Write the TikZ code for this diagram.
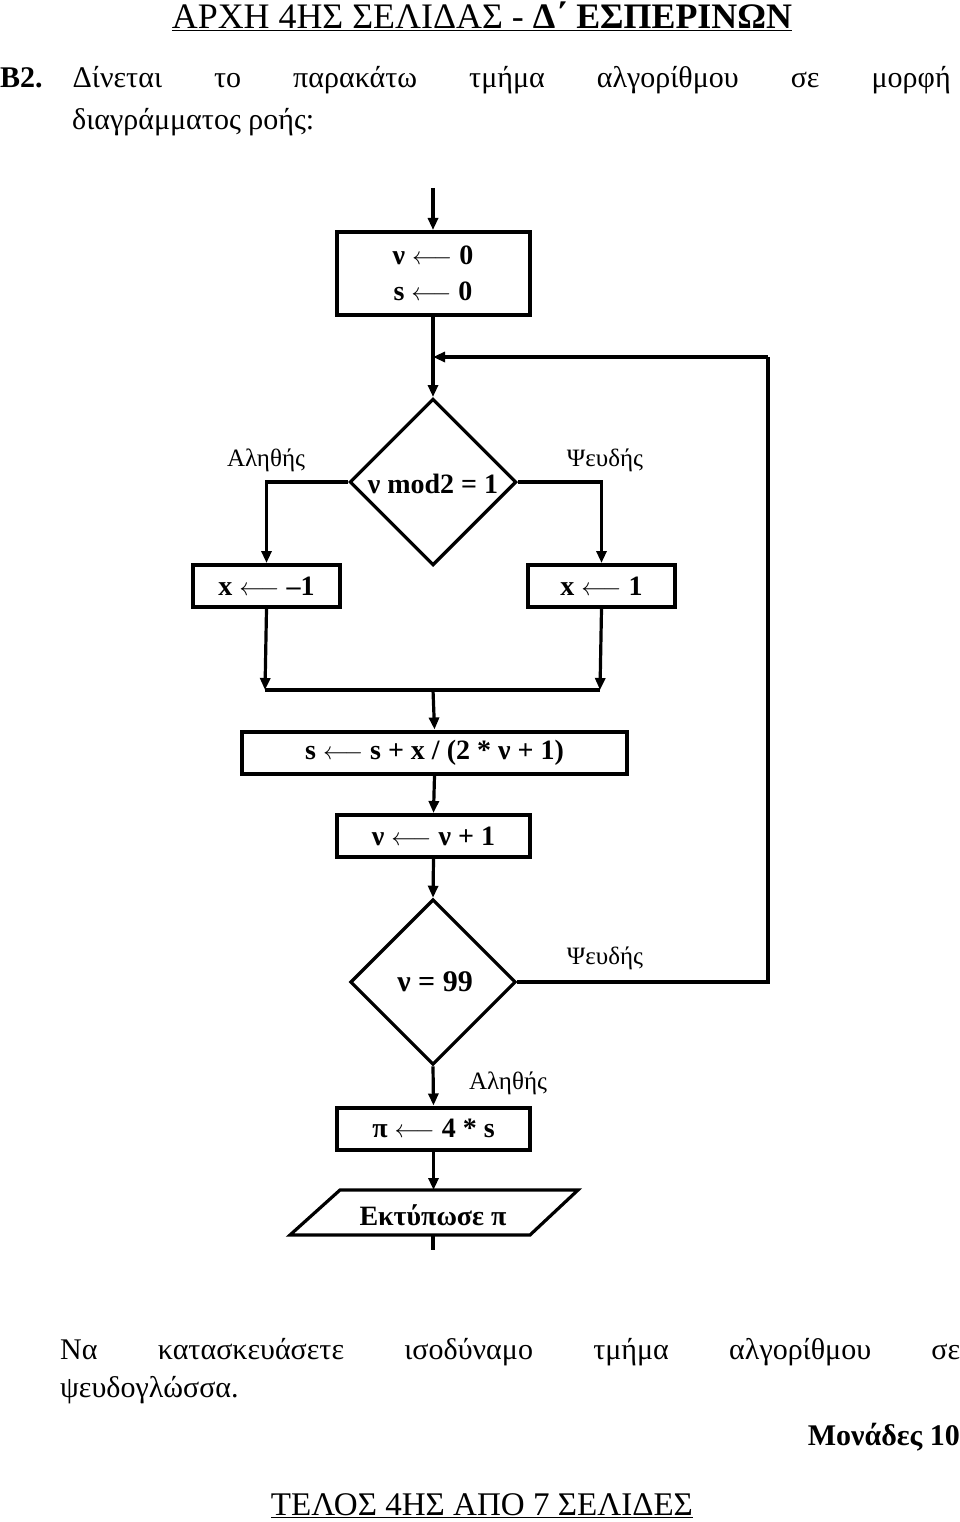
\documentclass[tikz,border=0pt]{standalone}
\usepackage{fontspec}
\setmainfont{Liberation Serif}
\usetikzlibrary{arrows.meta}
\begin{document}
\begin{tikzpicture}[x=1pt,y=-1pt,
  ln/.style={line width=3.2pt},
  ar/.style={ln,-{Triangle[length=12pt,width=10pt]}},
  box/.style={draw,line width=4pt,minimum height=42pt,inner sep=0pt,font=\fontsize{28}{30}\bfseries\selectfont},
  lbl/.style={font=\fontsize{25}{27}\selectfont,inner sep=0pt},
  txt/.style={font=\fontsize{30}{32}\selectfont,inner sep=0pt,anchor=west}]
\useasboundingbox (0,0) rectangle (960,1522);
% header / text
\node[inner sep=0pt] (hdr) at (482,16) {\resizebox{620pt}{!}{\fontsize{28}{30}\selectfont\underline{ΑΡΧΗ 4ΗΣ ΣΕΛΙΔΑΣ - \textbf{Δ΄ ΕΣΠΕΡΙΝΩΝ}}}};
\node[txt] (b2) at (0,80) {\textbf{Β2.}\hspace{30pt}\makebox[878pt][s]{Δίνεται το παρακάτω τμήμα αλγορίθμου σε μορφή}};
\node[txt] (l2) at (72,122) {διαγράμματος ροής:};
% flowchart
\coordinate (start) at (433,188);
\node[box,minimum width=193pt,minimum height=83pt,align=center] (b1) at (433,273.5) {ν $\longleftarrow$ 0\\[6pt]s $\longleftarrow$ 0};
\node[draw,ln,shape=rectangle,rotate=45,minimum width=117pt,minimum height=117pt,inner sep=0pt] (d1) at (433,482) {};
\node[font=\fontsize{28}{30}\bfseries\selectfont] (d1t) at (433,484) {ν mod2 = 1};
\node[box,minimum width=147pt] (bl) at (266.5,586) {x $\longleftarrow$ –1};
\node[box,minimum width=147pt] (br) at (601.5,586) {x $\longleftarrow$ 1};
\coordinate (jl) at (265,690); \coordinate (jr) at (600,690); \coordinate (jm) at (433,690);
\node[box,minimum width=385pt] (b4) at (434.5,752.5) {s $\longleftarrow$ s + x / (2 * ν + 1)};
\node[box,minimum width=193pt] (b5) at (433.5,836) {ν $\longleftarrow$ ν + 1};
\node[draw,ln,shape=rectangle,rotate=45,minimum width=116pt,minimum height=116pt,inner sep=0pt] (d2) at (433,982) {};
\node[font=\fontsize{30}{32}\bfseries\selectfont] (d2t) at (435,982) {ν = 99};
\node[box,minimum width=193pt] (b6) at (433.5,1128.5) {π $\longleftarrow$ 4 * s};
\coordinate (pa) at (340,1190); \coordinate (pb) at (578,1190);
\coordinate (pc) at (530,1235); \coordinate (pd) at (290,1235);
\draw[ln] (pa)--(pb)--(pc)--(pd)--cycle;
\node[font=\fontsize{28}{30}\bfseries\selectfont] (pt) at (433,1215) {Εκτύπωσε π};
\coordinate (pbot) at (433,1235); \coordinate (pend) at (433,1250);
\coordinate (lr) at (768,982); \coordinate (lt) at (768,357); \coordinate (lm) at (433,357);
% connectors
\draw[ar] (start) -- (b1.north);
\draw[ar] (b1.south) -- (d1.north east);
\draw[ar] (d1.north west) -| (bl.north);
\draw[ar] (d1.south east) -| (br.north);
\draw[ar] (bl.south) -- (jl);
\draw[ar] (br.south) -- (jr);
\draw[ln] (jl) -- (jr);
\draw[ar] (jm) -- (b4.north);
\draw[ar] (b4.south) -- (b5.north);
\draw[ar] (b5.south) -- (d2.north east);
\draw[ln] (d2.south east) -- (lr) -- (lt);
\draw[ar] (lt) -- (lm);
\draw[ar] (d2.south west) -- (b6.north);
\draw[ar] (b6.south) -- (pa -| b6.south);
\draw[ln] (pbot) -- (pend);
% labels
\node[lbl] (t1) at (266,460) {Αληθής};
\node[lbl] (f1) at (605,460) {Ψευδής};
\node[lbl] (f2) at (605,958) {Ψευδής};
\node[lbl] (t2) at (508,1083) {Αληθής};
% bottom text
\node[txt] (q1) at (60,1352) {\makebox[900pt][s]{Να κατασκευάσετε ισοδύναμο τμήμα αλγορίθμου σε}};
\node[txt] (q2) at (60,1390) {ψευδογλώσσα.};
\node[txt,anchor=east] (mon) at (960,1437) {\textbf{Μονάδες 10}};
\node[inner sep=0pt] (ftr) at (482,1506) {\resizebox{422pt}{!}{\fontsize{28}{30}\selectfont\underline{ΤΕΛΟΣ 4ΗΣ ΑΠΟ 7 ΣΕΛΙΔΕΣ}}};
\end{tikzpicture}
\end{document}
